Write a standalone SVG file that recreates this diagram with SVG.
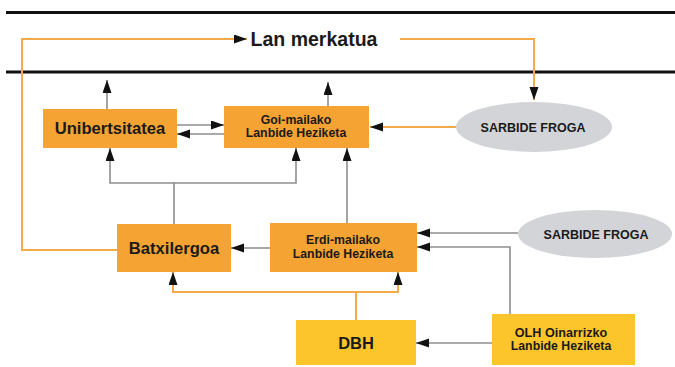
<svg xmlns="http://www.w3.org/2000/svg" width="675" height="367" viewBox="0 0 675 367">
<style>
text{font-family:"Liberation Sans",Arial,sans-serif;font-weight:bold;fill:#1a1a1a;text-anchor:middle}
.o{fill:#F5A332}
.y{fill:#FDC52C}
.e{fill:#D3D4D7}
.big{font-size:16.6px}
.sm{font-size:12.3px}
.lo{fill:none;stroke:#F4A94A;stroke-width:2}
.lg{fill:none;stroke:#8E8E8E;stroke-width:1.6}
.bar{stroke:#111;stroke-width:3}
</style>
<defs>
<marker id="ah" markerUnits="userSpaceOnUse" markerWidth="14" markerHeight="10" refX="13" refY="4.5" orient="auto" viewBox="0 0 14 10">
<path d="M0,0 L13,4.5 L0,9 z" fill="#111"/>
</marker>
</defs>
<rect width="675" height="367" fill="#fff"/>
<line class="bar" x1="6" y1="12.5" x2="675" y2="12.5"/>
<line class="bar" x1="6" y1="72" x2="675" y2="72"/>
<g id="connectors">
<path class="lo" d="M117,250 H22 V39 H247" marker-end="url(#ah)"/>
<path class="lo" d="M400,39 H534 V100" marker-end="url(#ah)"/>
<path class="lg" d="M107,109 V80" marker-end="url(#ah)"/>
<path class="lg" d="M328,106 V82" marker-end="url(#ah)"/>
<path class="lg" d="M177,125 H224" marker-end="url(#ah)"/>
<path class="lg" d="M224,134 H177" marker-end="url(#ah)"/>
<path class="lo" d="M456,127 H370" marker-end="url(#ah)"/>
<path class="lg" d="M174,224 V183 H110 V148" marker-end="url(#ah)"/>
<path class="lg" d="M174,183 H296 V148" marker-end="url(#ah)"/>
<path class="lg" d="M347,223 V148" marker-end="url(#ah)"/>
<path class="lg" d="M270,248 H231" marker-end="url(#ah)"/>
<path class="lg" d="M518,233 H417" marker-end="url(#ah)"/>
<path class="lg" d="M510,314 V247 H417" marker-end="url(#ah)"/>
<path class="lo" d="M356,320 V292 H173 V272" marker-end="url(#ah)"/>
<path class="lo" d="M356,292 H398 V272" marker-end="url(#ah)"/>
<path class="lg" d="M492,343 H416" marker-end="url(#ah)"/>
</g>
<g id="lan-merkatua">
<text x="314" y="46" style="font-size:19.5px">Lan merkatua</text>
</g>
<g id="unibertsitatea">
<rect class="o" x="43" y="109" width="134" height="39"/>
<text class="big" x="110" y="134">Unibertsitatea</text>
</g>
<g id="goi-mailako">
<rect class="o" x="224" y="106" width="145" height="42"/>
<text class="sm" x="296" y="124">Goi-mailako</text>
<text class="sm" x="296" y="137">Lanbide Heziketa</text>
</g>
<g id="sarbide-froga-1">
<ellipse class="e" cx="534" cy="127" rx="78" ry="25"/>
<text x="533" y="132" style="font-size:12.5px">SARBIDE FROGA</text>
</g>
<g id="batxilergoa">
<rect class="o" x="117" y="224" width="114" height="48"/>
<text class="big" x="174" y="254">Batxilergoa</text>
</g>
<g id="erdi-mailako">
<rect class="o" x="270" y="223" width="147" height="49"/>
<text class="sm" x="343" y="244">Erdi-mailako</text>
<text class="sm" x="343" y="258">Lanbide Heziketa</text>
</g>
<g id="sarbide-froga-2">
<ellipse class="e" cx="595" cy="234" rx="77" ry="24"/>
<text x="596" y="239" style="font-size:12.5px">SARBIDE FROGA</text>
</g>
<g id="dbh">
<rect class="y" x="296" y="320" width="120" height="45"/>
<text x="356" y="349" style="font-size:16.5px">DBH</text>
</g>
<g id="olh">
<rect class="y" x="492" y="314" width="143" height="51"/>
<text class="sm" x="561" y="337" style="font-size:12.6px">OLH Oinarrizko</text>
<text class="sm" x="561" y="350">Lanbide Heziketa</text>
</g>
</svg>
